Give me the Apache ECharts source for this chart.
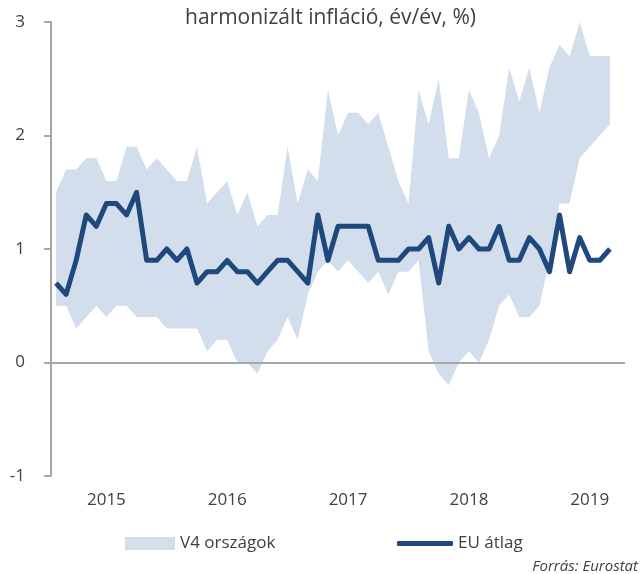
<!DOCTYPE html>
<html>
<head>
<meta charset="utf-8">
<script src="https://cdn.jsdelivr.net/npm/echarts@6/dist/echarts.min.js"></script>
<style>
  html, body { margin: 0; padding: 0; background: #fff; }
  #main { width: 643px; height: 574px; }
</style>
</head>
<body>
<div id="main"></div>
<script>
// havi adatok, 2015 jan - 2019 aug (+ egy üres hónap a végén)
var years = ['2015', '2016', '2017', '2018', '2019'];
var yearLabelIdx = [5, 17, 29, 41, 53];

var euAvg = [0.7, 0.6, 0.9, 1.3, 1.2, 1.4, 1.4, 1.3, 1.5, 0.9, 0.9, 1.0,
  0.9, 1.0, 0.7, 0.8, 0.8, 0.9, 0.8, 0.8, 0.7, 0.8, 0.9, 0.9,
  0.8, 0.7, 1.3, 0.9, 1.2, 1.2, 1.2, 1.2, 0.9, 0.9, 0.9, 1.0,
  1.0, 1.1, 0.7, 1.2, 1.0, 1.1, 1.0, 1.0, 1.2, 0.9, 0.9, 1.1,
  1.0, 0.8, 1.3, 0.8, 1.1, 0.9, 0.9, 1.0];

var v4Max = [1.5, 1.7, 1.7, 1.8, 1.8, 1.6, 1.6, 1.9, 1.9, 1.7, 1.8, 1.7,
  1.6, 1.6, 1.9, 1.4, 1.5, 1.6, 1.3, 1.5, 1.2, 1.3, 1.3, 1.9,
  1.4, 1.7, 1.6, 2.4, 2.0, 2.2, 2.2, 2.1, 2.2, 1.9, 1.6, 1.4,
  2.4, 2.1, 2.5, 1.8, 1.8, 2.4, 2.2, 1.8, 2.0, 2.6, 2.3, 2.6,
  2.2, 2.6, 2.8, 2.7, 3.0, 2.7, 2.7, 2.7];

var v4Min = [0.5, 0.5, 0.3, 0.4, 0.5, 0.4, 0.5, 0.5, 0.4, 0.4, 0.4, 0.3,
  0.3, 0.3, 0.3, 0.1, 0.2, 0.2, 0.0, 0.0, -0.1, 0.1, 0.2, 0.4,
  0.2, 0.6, 0.8, 0.9, 0.8, 0.9, 0.8, 0.7, 0.8, 0.6, 0.8, 0.8,
  0.9, 0.1, -0.1, -0.2, 0.0, 0.1, 0.0, 0.2, 0.5, 0.6, 0.4, 0.4,
  0.5, 0.9, 1.4, 1.4, 1.8, 1.9, 2.0, 2.1];

var bandColor = '#d3deed';
var lineColor = '#1f497d';
var axisColor = '#a6a6a6';
var textColor = '#404040';
var font = 'Open Sans';

// hónap kategóriák: 2015-01 ... 2019-09
var months = [];
years.forEach(function (y) {
  for (var m = 1; m <= 12; m++) months.push(y + '-' + (m < 10 ? '0' : '') + m);
});
months = months.slice(0, 57);

var spanData = v4Max.map(function (v, i) { return +(v - v4Min[i]).toFixed(2); });

var chart = echarts.init(document.getElementById('main'));

var option = {
  animation: false,
  textStyle: { fontFamily: font },
  title: {
    text: 'Forrás: Eurostat',
    right: 5,
    bottom: 0,
    padding: 0,
    textStyle: { fontFamily: font, fontSize: 15, fontStyle: 'italic', fontWeight: 'normal', color: textColor }
  },
  graphic: [{
    type: 'text',
    left: 185,
    top: 8,
    style: {
      text: 'harmonizált infláció, év/év, %)',
      font: '21px "Open Sans"',
      fill: textColor
    }
  }],
  legend: [
    {
      left: 125,
      top: 535,
      padding: 0,
      itemWidth: 50,
      itemHeight: 13,
      textStyle: { fontFamily: font, fontSize: 17, color: textColor },
      data: [{ name: 'V4 országok', icon: 'rect', itemStyle: { color: bandColor } }]
    },
    {
      left: 397,
      top: 535,
      padding: 0,
      itemWidth: 56,
      itemHeight: 5,
      textStyle: { fontFamily: font, fontSize: 17, color: textColor },
      data: [{ name: 'EU átlag', icon: 'roundRect', itemStyle: { color: lineColor } }]
    }
  ],
  grid: { left: 51, right: 18, top: 22, bottom: 98 },
  xAxis: {
    type: 'category',
    data: months,
    boundaryGap: true,
    axisLine: { show: false },
    axisTick: { show: false },
    splitLine: { show: false },
    axisLabel: {
      interval: function (i) { return yearLabelIdx.indexOf(i) >= 0; },
      margin: 16,
      fontFamily: font,
      fontSize: 17,
      color: textColor,
      formatter: function (v) { return v.slice(0, 4); }
    }
  },
  yAxis: {
    type: 'value',
    min: -1,
    max: 3,
    interval: 1,
    axisLine: { show: true, lineStyle: { color: axisColor, width: 2 } },
    axisTick: { show: true, length: 7, lineStyle: { color: axisColor, width: 2 } },
    splitLine: { show: false },
    axisLabel: { margin: 26, fontFamily: font, fontSize: 17, color: textColor }
  },
  series: [
    {
      name: 'v4min',
      type: 'line',
      data: v4Min,
      stack: 'v4',
      stackStrategy: 'all',
      symbol: 'none',
      lineStyle: { opacity: 0 },
      silent: true
    },
    {
      name: 'V4 országok',
      type: 'line',
      data: spanData,
      stack: 'v4',
      stackStrategy: 'all',
      symbol: 'none',
      lineStyle: { opacity: 0 },
      itemStyle: { color: bandColor },
      areaStyle: { color: bandColor, opacity: 1 },
      silent: true
    },
    {
      name: 'EU átlag',
      type: 'line',
      data: euAvg,
      symbol: 'none',
      itemStyle: { color: lineColor },
      lineStyle: { color: lineColor, width: 5, join: 'round' },
      z: 5,
      markLine: {
        silent: true,
        symbol: 'none',
        label: { show: false },
        lineStyle: { color: axisColor, width: 2, type: 'solid' },
        data: [{ yAxis: 0 }]
      }
    }
  ]
};

chart.setOption(option);
</script>
</body>
</html>
